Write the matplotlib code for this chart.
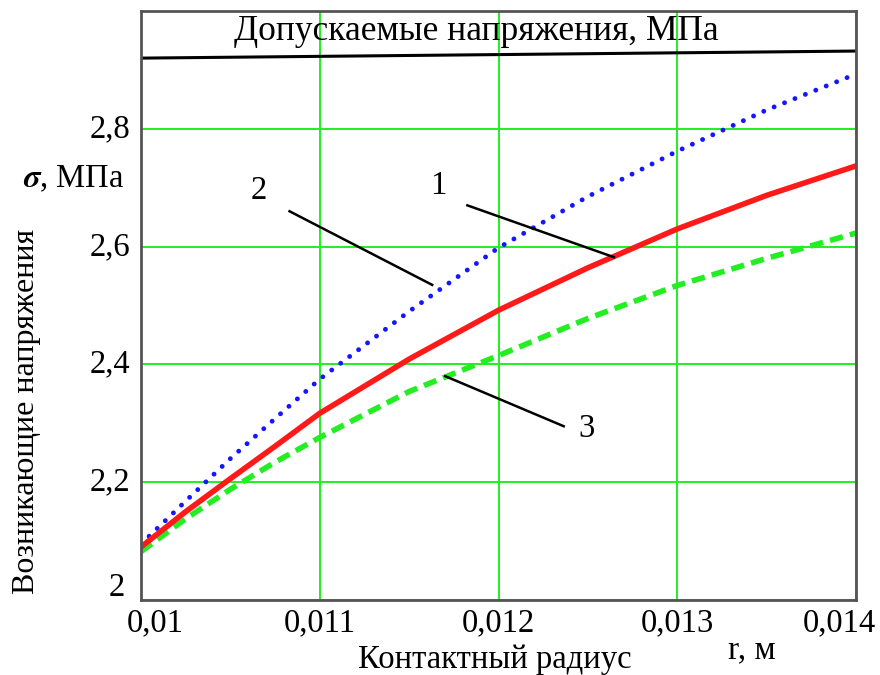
import matplotlib
matplotlib.use("Agg")
import matplotlib.pyplot as plt
from matplotlib.ticker import FixedLocator, NullFormatter

plt.rcParams['font.family'] = ['Liberation Serif', 'DejaVu Serif']
plt.rcParams['mathtext.fontset'] = 'stix'

# Contact radius, m
radius = [0.010, 0.01025, 0.0105, 0.01075, 0.011, 0.0115, 0.012,
          0.0125, 0.013, 0.0135, 0.014]
# Resulting stresses, MPa
stress_1 = [2.090, 2.150, 2.206, 2.261, 2.317, 2.409, 2.492,
            2.564, 2.630, 2.687, 2.737]
stress_2 = [2.095, 2.168, 2.240, 2.308, 2.375, 2.490, 2.598,
            2.685, 2.762, 2.832, 2.893]
stress_3 = [2.082, 2.138, 2.188, 2.234, 2.276, 2.354, 2.415,
            2.478, 2.534, 2.580, 2.623]
# Allowable stress line, MPa
allow_r = [0.010, 0.014]
allow_s = [2.920, 2.932]

x_ticks = [0.010, 0.011, 0.012, 0.013, 0.014]
x_labels = ['0,01', '0,011', '0,012', '0,013', '0,014']
y_ticks = [2.0, 2.2, 2.4, 2.6, 2.8]
y_labels = ['2', '2,2', '2,4', '2,6', '2,8']

FS = 23.5

fig = plt.figure(figsize=(8.8, 6.75), dpi=100)
ax = fig.add_axes([141 / 880, 75 / 675, 715 / 880, 589 / 675])

ax.set_xlim(0.01, 0.014)
ax.set_ylim(2.0, 3.0)

ax.xaxis.set_major_locator(FixedLocator(x_ticks))
ax.yaxis.set_major_locator(FixedLocator(y_ticks))
ax.xaxis.set_major_formatter(NullFormatter())
ax.yaxis.set_major_formatter(NullFormatter())

ax.grid(True, color='#22ee22', linewidth=1.4)
ax.set_axisbelow(True)
ax.tick_params(length=0)
for sp in ax.spines.values():
    sp.set_color('#555555')
    sp.set_linewidth(2)

# Tick labels, kept inside the frame width at both ends (offsets in px)
x_shift = [14, 0, 0, 0, -17]
for xv, lab, dx in zip(x_ticks, x_labels, x_shift):
    ax.annotate(lab, xy=(xv, 0), xycoords=('data', 'axes fraction'),
                xytext=(dx * 0.72, -23 * 0.72), textcoords='offset points',
                fontsize=FS, ha='center', va='center', annotation_clip=False)
y_shift = [(-16, 12), (-11, 0), (-11, 0), (-11, 0), (-11, 0)]
for yv, lab, (dx, dy) in zip(y_ticks, y_labels, y_shift):
    ax.annotate(lab, xy=(0, yv), xycoords=('axes fraction', 'data'),
                xytext=(dx * 0.72, dy * 0.72), textcoords='offset points',
                fontsize=FS, ha='right', va='center', annotation_clip=False)

ax.plot(allow_r, allow_s, color='black', lw=2.2, solid_capstyle='butt')
ax.plot(radius, stress_2, color='#1515ff', lw=3.5, linestyle=(0, (0.01, 2.3)),
        dash_capstyle='round')
ax.plot(radius, stress_3, color='#22ee22', lw=4, linestyle=(0, (2.4, 1.3)))
ax.plot(radius, stress_1, color='#ff1a1a', lw=4)

ax.text(0.011876, 2.966, 'Допускаемые напряжения, МПа', fontsize=25.5,
        ha='center', va='center')

# Curve labels with leader lines
ax.plot([0.010831, 0.011629], [2.660, 2.535], color='black', lw=1.8)
ax.text(0.010657, 2.694, '2', fontsize=FS, ha='center', va='center')
ax.plot([0.011826, 0.012646], [2.670, 2.582], color='black', lw=1.8)
ax.text(0.011663, 2.704, '1', fontsize=FS, ha='center', va='center')
ax.plot([0.011702, 0.012365], [2.380, 2.295], color='black', lw=1.8)
ax.text(0.012494, 2.290, '3', fontsize=FS, ha='center', va='center')

fig.text(27 / 880, 1 - 411 / 675, 'Возникающие напряжения', fontsize=23,
         rotation=90, ha='center', va='center')
fig.text(74 / 880, 1 - 179 / 675,
         r'$\boldsymbol{\sigma}$' + ', МПа', fontsize=FS,
         ha='center', va='center')
fig.text(495 / 880, 1 - 660 / 675, 'Контактный радиус', fontsize=FS,
         ha='center', va='center')
fig.text(752 / 880, 1 - 650 / 675, 'r, м', fontsize=24,
         ha='center', va='center')

fig.savefig('out.png', dpi=100)
